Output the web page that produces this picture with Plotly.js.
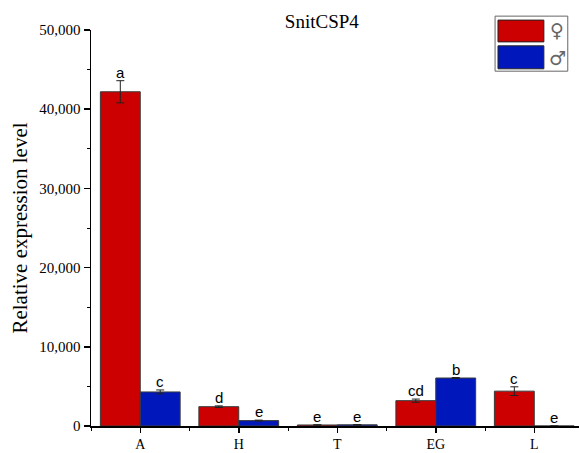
<!DOCTYPE html>
<html>
<head>
<meta charset="utf-8">
<script src="https://cdn.plot.ly/plotly-3.0.1.min.js"></script>
<style>html,body{margin:0;padding:0;background:#fff;}#chart{width:579px;height:453px;}</style>
</head>
<body>
<div id="chart"></div>
<script>
const categories = ["A", "H", "T", "EG", "L"];
const femaleValues = [42200, 2440, 130, 3200, 4400];
const femaleErrors = [1400, 100, 30, 200, 550];
const maleValues = [4300, 680, 150, 6060, 0];
const maleErrors = [250, 60, 30, 60, 0];
const femaleLetters = ["a", "d", "e", "cd", "c"];
const maleLetters = ["c", "e", "e", "b", "e"];
const yTickVals = [0, 10000, 20000, 30000, 40000, 50000];

const serif = "Liberation Serif, Times New Roman, serif";
const sans = "Liberation Sans, Arial, sans-serif";
const bargap = 0.19;
const half = (1 - bargap) / 4;
const idx = categories.map((c, i) => i);

const traces = [
  {type: "bar", name: "♀", x: idx, y: femaleValues,
   marker: {color: "#CC0000", line: {color: "#3a3a3a", width: 1}},
   error_y: {type: "data", array: femaleErrors, visible: true, color: "#222", thickness: 1, width: 4}},
  {type: "bar", name: "♂", x: idx, y: maleValues,
   marker: {color: "#0018BB", line: {color: "#3a3a3a", width: 1}},
   error_y: {type: "data", array: maleErrors, visible: true, color: "#222", thickness: 1, width: 4}}
];

const annotations = [];
categories.forEach((c, i) => {
  annotations.push({x: i - half, y: femaleValues[i] + femaleErrors[i], xref: "x", yref: "y",
    text: femaleLetters[i], showarrow: false, yanchor: "bottom", yshift: -2,
    font: {family: sans, size: 15, color: "#000"}});
  annotations.push({x: i + half, y: maleValues[i] + maleErrors[i], xref: "x", yref: "y",
    text: maleLetters[i], showarrow: false, yanchor: "bottom", yshift: -2,
    font: {family: sans, size: 15, color: "#000"}});
});
// custom legend symbols
annotations.push({x: 0.955, y: 1.000, xref: "paper", yref: "paper", text: "♀", showarrow: false,
  font: {family: "DejaVu Sans", size: 19, color: "#666"}, xanchor: "center", yanchor: "middle"});
annotations.push({x: 0.955, y: 0.930, xref: "paper", yref: "paper", text: "♂", showarrow: false,
  font: {family: "DejaVu Sans", size: 19, color: "#666"}, xanchor: "center", yanchor: "middle"});

const shapes = [
  {type: "rect", xref: "paper", yref: "paper", x0: 0.828, x1: 0.977, y0: 0.896, y1: 1.035,
   line: {color: "#666", width: 1}, fillcolor: "#fff", layer: "above"},
  {type: "rect", xref: "paper", yref: "paper", x0: 0.834, x1: 0.928, y0: 0.970, y1: 1.025,
   line: {color: "#222", width: 1}, fillcolor: "#CC0000", layer: "above"},
  {type: "rect", xref: "paper", yref: "paper", x0: 0.834, x1: 0.928, y0: 0.902, y1: 0.960,
   line: {color: "#222", width: 1}, fillcolor: "#0018BB", layer: "above"}
];

const layout = {
  width: 579, height: 453,
  margin: {l: 91, r: 0, t: 30, b: 27},
  paper_bgcolor: "#fff", plot_bgcolor: "#fff",
  showlegend: false,
  barmode: "group", bargap: bargap, bargroupgap: 0,
  title: {text: "SnitCSP4", font: {family: serif, size: 19, color: "#000"},
          xref: "paper", x: 0.473, xanchor: "center", yref: "container", y: 0.953, yanchor: "middle"},
  xaxis: {
    tickmode: "array", tickvals: idx, ticktext: categories,
    range: [-0.5, 4.454], showgrid: false, zeroline: false,
    showline: true, linecolor: "#000", linewidth: 1.5,
    ticks: "outside", ticklen: 5, tickwidth: 1.5, tickcolor: "#000",
    tickfont: {family: serif, size: 14, color: "#000"},
    minor: {tickmode: "array", tickvals: [-0.5, 0.5, 1.5, 2.5, 3.5], ticks: "outside", ticklen: 3, tickwidth: 1, tickcolor: "#000", showgrid: false}
  },
  yaxis: {
    range: [0, 50000], tickmode: "array", tickvals: yTickVals, tickformat: ",d",
    showgrid: false, zeroline: false,
    showline: true, linecolor: "#000", linewidth: 1.5,
    ticks: "outside", ticklen: 6, tickwidth: 1.5, tickcolor: "#000",
    tickfont: {family: serif, size: 15, color: "#000"},
    minor: {dtick: 5000, ticks: "outside", ticklen: 3, tickwidth: 1, tickcolor: "#000", showgrid: false},
    title: {text: "Relative expression level", font: {family: serif, size: 21, color: "#000"}, standoff: 6}
  },
  shapes: shapes,
  annotations: annotations
};

Plotly.newPlot("chart", traces, layout, {displayModeBar: false, staticPlot: true});
</script>
</body>
</html>
